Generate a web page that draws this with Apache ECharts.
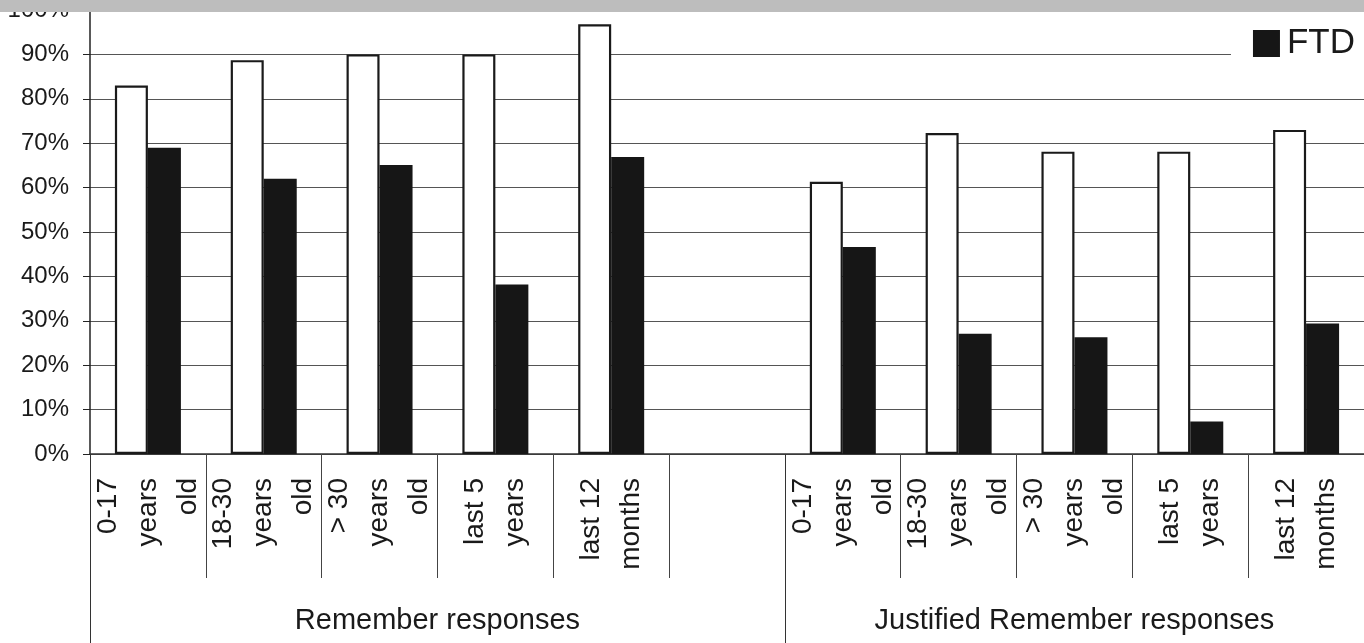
<!DOCTYPE html>
<html>
<head>
<meta charset="utf-8">
<script src="https://cdn.jsdelivr.net/npm/echarts@6/dist/echarts.min.js"></script>
<style>
html,body{margin:0;padding:0;background:#fff;}
#chart{width:1364px;height:643px;}
</style>
</head>
<body>
<div id="chart"></div>
<script>
// ---- data ----
const categories = [
  '0-17\nyears\nold', '18-30\nyears\nold', '> 30\nyears\nold', 'last 5\nyears', 'last 12\nmonths', '',
  '0-17\nyears\nold', '18-30\nyears\nold', '> 30\nyears\nold', 'last 5\nyears', 'last 12\nmonths'
];
const controlValues = [83, 88.7, 90, 90, 96.8, null, 61.3, 72.3, 68.1, 68.1, 73];
const ftdValues     = [69, 62, 65.1, 38.2, 66.9, null, 46.6, 27.1, 26.3, 7.3, 29.4];
const seriesNames = ['Control', 'FTD'];
const groupLabels = ['Remember responses', 'Justified Remember responses'];
const groupSizes = [6, 5];
const watermark = 'ACCEPTED MANUSCRIPT';

// group boundaries / centres in category units
const groupBounds = [0];
groupSizes.forEach(s => groupBounds.push(groupBounds[groupBounds.length - 1] + s));
const groupCenters = groupSizes.map((s, i) => groupBounds[i] + s / 2);

const FONT = "'Liberation Sans', Arial, sans-serif";
const chart = echarts.init(document.getElementById('chart'));
chart.setOption({
  animation: false,
  backgroundColor: '#ffffff',
  textStyle: { fontFamily: FONT },
  grid: { left: 90, right: 0, top: 10, bottom: 189, outerBoundsMode: 'none', containLabel: false },
  legend: {
    data: ['FTD'],
    right: 0, top: 20,
    backgroundColor: '#ffffff',
    padding: [6, 9, 8, 22],
    itemWidth: 27, itemHeight: 27,
    icon: 'rect',
    textStyle: { fontSize: 35, color: '#1a1a1a', fontFamily: FONT, padding: [0, 0, 0, 2] }
  },
  xAxis: [
    {
      type: 'category',
      data: categories,
      boundaryGap: true,
      axisLine: { show: true, lineStyle: { color: '#333', width: 1.5 } },
      axisTick: { show: true, interval: 0, length: 124, lineStyle: { color: '#444', width: 1 } },
      axisLabel: {
        interval: 0, rotate: 90, margin: 24,
        fontSize: 28, lineHeight: 40, color: '#1a1a1a', fontFamily: FONT
      },
      splitLine: { show: false }
    },
    {
      type: 'value',
      min: 0, max: groupBounds[groupBounds.length - 1],
      position: 'bottom',
      axisLine: { show: false },
      splitLine: { show: false },
      axisTick: { show: true, customValues: groupBounds, length: 189, lineStyle: { color: '#333', width: 1 } },
      axisLabel: {
        customValues: groupCenters,
        formatter: v => groupLabels[groupCenters.indexOf(v)] || '',
        margin: 152, fontSize: 29, color: '#1a1a1a', fontFamily: FONT
      }
    }
  ],
  yAxis: {
    type: 'value',
    min: 0, max: 100, interval: 10,
    axisLine: { show: true, lineStyle: { color: '#222', width: 1.5 } },
    axisTick: { show: true, length: 7, lineStyle: { color: '#222' } },
    axisLabel: { formatter: '{value}%', fontSize: 24, margin: 21, color: '#1a1a1a', fontFamily: FONT },
    splitLine: { show: true, lineStyle: { color: '#555', width: 1.2 } }
  },
  series: [
    {
      name: seriesNames[0], type: 'bar', data: controlValues,
      barWidth: 33, barGap: '0%',
      itemStyle: { color: '#ffffff', borderColor: '#1a1a1a', borderWidth: 2.2 }
    },
    {
      name: seriesNames[1], type: 'bar', data: ftdValues,
      barWidth: 33, barGap: '0%',
      itemStyle: { color: '#161616' }
    }
  ],
  graphic: [
    { type: 'rect', z: 100, shape: { x: 0, y: 0, width: 1364, height: 12 }, style: { fill: '#bdbdbd' } },
    { type: 'text', z: 101, x: 657, y: 9, style: { text: watermark, fill: '#e4e4e4', font: "bold 75px " + FONT, align: 'center', verticalAlign: 'bottom' } }
  ]
});
</script>
</body>
</html>
